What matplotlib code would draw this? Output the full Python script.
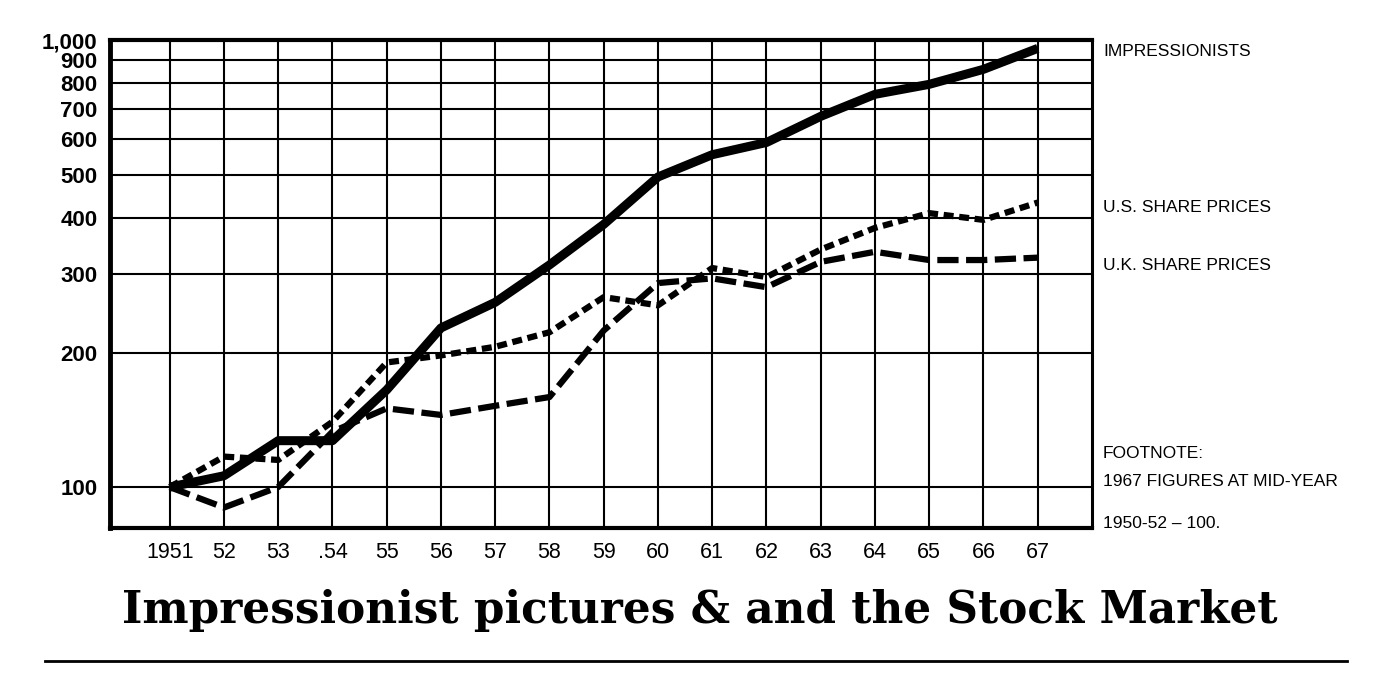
import matplotlib
matplotlib.use("Agg")
import matplotlib.pyplot as plt
from matplotlib.lines import Line2D
from matplotlib.ticker import NullLocator

# Datos (indice 1950-52 = 100)
anios = [1951, 1952, 1953, 1954, 1955, 1956, 1957, 1958, 1959,
         1960, 1961, 1962, 1963, 1964, 1965, 1966, 1967]
impresionistas = [100, 106, 127, 127, 165, 227, 259, 314, 387,
                  494, 554, 590, 675, 756, 796, 860, 958]
acciones_us = [100, 117, 115, 140, 190, 197, 206, 222, 266,
               255, 309, 295, 340, 380, 410, 396, 433]
acciones_uk = [100, 90, 100, 133, 150, 145, 152, 159, 224,
               286, 293, 280, 319, 336, 322, 322, 326]

etiquetas_x = ["1951", "52", "53", ".54", "55", "56", "57", "58", "59",
               "60", "61", "62", "63", "64", "65", "66", "67"]
valores_y = [100, 200, 300, 400, 500, 600, 700, 800, 900, 1000]
etiquetas_y = ["100", "200", "300", "400", "500", "600", "700", "800", "900", "1,000"]

fig = plt.figure(figsize=(14, 6.95), dpi=100)
ax = fig.add_axes([0.0786, 0.2403, 0.7014, 0.7021])

ax.set_yscale("log")
ax.set_xlim(1949.9, 1968)
ax.set_ylim(81, 1000)

# lineas de la cuadricula
for v in valores_y:
    ax.axhline(v, color="black", lw=1.5, zorder=1)
for a in anios:
    ax.axvline(a, color="black", lw=1.5, zorder=1)

# series
ax.plot(anios, impresionistas, color="black", lw=6.5, solid_capstyle="butt",
        solid_joinstyle="round", zorder=4)
ax.plot(anios, acciones_us, color="black", lw=4.5, dashes=(1.6, 0.9),
        dash_capstyle="butt", zorder=3)
ax.plot(anios, acciones_uk, color="black", lw=4.5, dashes=(3.4, 1.2),
        dash_capstyle="butt", zorder=3)

ax.set_xticks(anios)
ax.set_xticklabels(etiquetas_x, fontsize=15.5, family="Liberation Sans")
ax.set_yticks(valores_y)
ax.set_yticklabels(etiquetas_y, fontsize=16, family="Liberation Sans",
                   fontweight="bold")
ax.yaxis.set_minor_locator(NullLocator())
ax.tick_params(axis="both", length=0)
ax.tick_params(axis="x", pad=10)
ax.tick_params(axis="y", pad=9)

for lado, ancho in [("left", 3.5), ("bottom", 3.0), ("top", 3.0), ("right", 2.2)]:
    ax.spines[lado].set_linewidth(ancho)
    ax.spines[lado].set_color("black")

# rotulos a la derecha
x_txt = 1103 / 1400
def rotulo(y_px, texto):
    fig.text(x_txt, 1 - y_px / 695, texto, fontsize=12.5, family="Liberation Sans",
             va="center", ha="left")

rotulo(52, "IMPRESSIONISTS")
rotulo(208, "U.S. SHARE PRICES")
rotulo(265, "U.K. SHARE PRICES")
rotulo(453, "FOOTNOTE:")
rotulo(482, "1967 FIGURES AT MID-YEAR")
rotulo(523, "1950-52 \u2013 100.")

# titulo
fig.text(0.5, 1 - 611 / 695, "Impressionist pictures & and the Stock Market",
         fontsize=31.5, family="DejaVu Serif", fontweight="bold",
         ha="center", va="center")

# linea inferior
fig.add_artist(Line2D([45 / 1400, 1347 / 1400], [1 - 661 / 695, 1 - 661 / 695],
                      color="black", lw=2, transform=fig.transFigure))

fig.savefig("out.png", dpi=100)
plt.close(fig)
